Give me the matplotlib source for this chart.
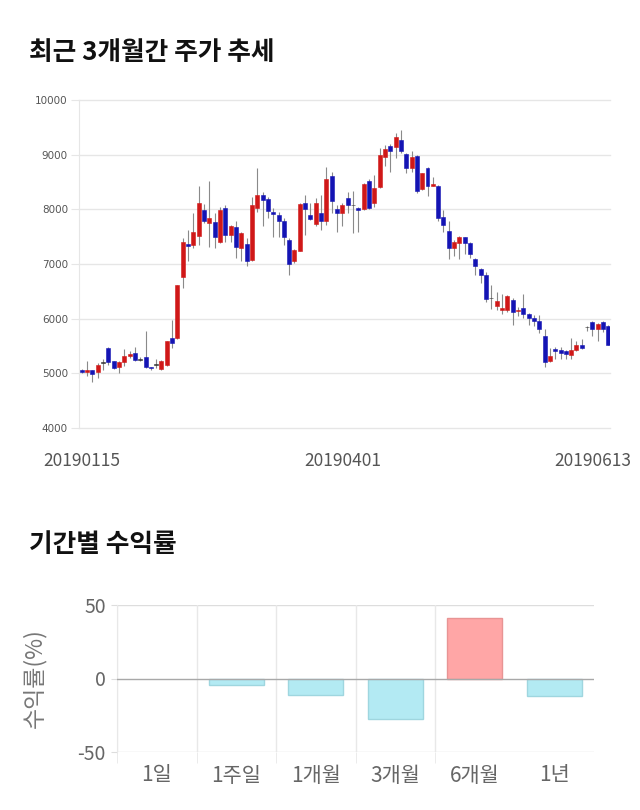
import matplotlib.pyplot as plt
import numpy as np

plt.rcParams['font.family'] = ['Noto Sans CJK KR', 'DejaVu Sans']
plt.rcParams['axes.unicode_minus'] = False

# daily candles (open, high, low, close), 2019-01-15 .. 2019-06-13
opens = [5060, 5020, 5060, 5020, 5200, 5460, 5220, 5110, 5200, 5310,
         5370, 5250, 5300, 5120, 5160, 5080, 5160, 5650, 5650, 6770,
         7360, 7340, 7520, 7980, 7750, 7760, 7410, 8020, 7530, 7670,
         7290, 7370, 7080, 8020, 8260, 8190, 7950, 7890, 7790, 7430,
         7060, 7240, 8110, 7890, 7730, 7940, 7780, 8610, 8010, 7930,
         8200, 8080, 8020, 8000, 8510, 8110, 8400, 8950, 9160, 9140,
         9270, 9010, 8750, 8980, 8370, 8750, 8430, 8420, 7860, 7610,
         7290, 7390, 7490, 7380, 7100, 6910, 6800, 6380, 6240, 6150,
         6160, 6350, 6140, 6190, 6080, 6010, 5960, 5690, 5220, 5440,
         5420, 5400, 5340, 5430, 5510, 5850, 5940, 5810, 5930, 5870]
highs = [5080, 5220, 5070, 5190, 5260, 5490, 5230, 5220, 5450, 5400,
         5490, 5300, 5770, 5120, 5260, 5240, 5600, 5980, 6620, 7470,
         7630, 7930, 8430, 8100, 8510, 7930, 8050, 8080, 7720, 7780,
         7590, 7470, 8230, 8750, 8320, 8220, 8020, 7960, 7840, 7470,
         7270, 8110, 8260, 8110, 8200, 8260, 8780, 8690, 8080, 8110,
         8310, 8330, 8050, 8480, 8550, 8630, 9120, 9180, 9190, 9390,
         9450, 9030, 9060, 9000, 8670, 8780, 8590, 8450, 7990, 7780,
         7440, 7520, 7500, 7410, 7110, 6920, 6860, 6620, 6480, 6460,
         6430, 6380, 6220, 6460, 6110, 6070, 6070, 5810, 5460, 5490,
         5480, 5420, 5650, 5590, 5620, 5870, 5950, 5920, 5950, 5890]
lows = [5000, 4950, 4850, 4920, 5070, 5160, 5080, 5010, 5130, 5280,
        5220, 5220, 5100, 5070, 5100, 5070, 5130, 5470, 5620, 6560,
        7050, 7290, 7350, 7750, 7320, 7290, 7380, 7410, 7410, 7110,
        7050, 6960, 7060, 7960, 7700, 7840, 7500, 7500, 7350, 6800,
        7020, 7230, 7530, 7810, 7690, 7620, 7720, 7930, 7590, 7690,
        7930, 7560, 7590, 7990, 8000, 8050, 8390, 8790, 8690, 8930,
        9030, 8660, 8690, 8290, 8360, 8250, 8420, 7780, 7590, 7090,
        7140, 7090, 7190, 7110, 6800, 6650, 6300, 6180, 6160, 6090,
        6130, 5890, 6040, 6010, 5890, 5860, 5730, 5120, 5200, 5260,
        5260, 5260, 5260, 5400, 5440, 5770, 5680, 5600, 5750, 5520]
closes = [5030, 5060, 4980, 5160, 5200, 5200, 5090, 5200, 5310, 5350,
          5240, 5250, 5120, 5090, 5160, 5220, 5590, 5550, 6620, 7400,
          7330, 7580, 8110, 7790, 7840, 7490, 7990, 7530, 7690, 7310,
          7560, 7060, 8080, 8260, 8170, 7970, 7920, 7780, 7490, 7000,
          7250, 8090, 8000, 7820, 8110, 7790, 8550, 8160, 7940, 8080,
          8080, 8080, 7980, 8460, 8020, 8390, 8990, 9100, 9070, 9320,
          9060, 8750, 8960, 8340, 8660, 8430, 8460, 7840, 7720, 7290,
          7410, 7500, 7380, 7190, 6960, 6800, 6360, 6380, 6330, 6200,
          6410, 6130, 6160, 6090, 6010, 5950, 5820, 5200, 5310, 5400,
          5380, 5350, 5430, 5510, 5460, 5850, 5810, 5900, 5810, 5520]
date_ticks = [0, 49, 96]
date_labels = ['20190115', '20190401', '20190613']

# period returns
periods = ['1일', '1주일', '1개월', '3개월', '6개월', '1년']
returns = [0.0, -4.2, -11.4, -27.8, 40.9, -12.0]

fig = plt.figure(figsize=(6.4, 8.1), dpi=100)

fig.text(29 / 640, 1 - 52 / 810, '최근 3개월간 주가 추세', fontsize=18.5,
         fontweight='heavy', color='#111111', va='center')
fig.text(29 / 640, 1 - 544 / 810, '기간별 수익률', fontsize=18.5,
         fontweight='heavy', color='#111111', va='center')

# candlestick chart
ax = fig.add_axes([79 / 640, 1 - 428 / 810, 531 / 640, 328 / 810])
x = np.arange(len(opens))
o = np.array(opens)
c = np.array(closes)
colors = np.where(c > o, '#d01818', np.where(c < o, '#1414b4', '#333333'))
ax.vlines(x, lows, highs, color='#8a8a8a', linewidth=0.8, zorder=2)
body = np.maximum(np.abs(c - o), 12)
ax.bar(x, body, bottom=np.minimum(o, c) - np.where(c == o, 6, 0), width=0.75,
       color=colors, edgecolor=colors, linewidth=0.4, zorder=3)
ax.set_xlim(-0.5, 99.3)
ax.set_ylim(4000, 10000)
ax.set_yticks(range(4000, 10001, 1000))
ax.tick_params(axis='y', length=6, color='#e6e6e6', labelsize=7.5,
               labelcolor='#555555', pad=2)
for lab in ax.get_yticklabels():
    lab.set_family('DejaVu Sans')
ax.set_xticks(date_ticks)
ax.set_xticklabels(date_labels)
ax.tick_params(axis='x', length=0, labelsize=12.5, labelcolor='#555555', pad=17)
ax.grid(axis='y', color='#e6e6e6', linewidth=1)
for gl in ax.get_ygridlines():
    gl.set_clip_on(False)
for s in ['top', 'right', 'bottom']:
    ax.spines[s].set_visible(False)
ax.spines['left'].set_color('#e6e6e6')
ax.set_axisbelow(True)

# returns bar chart
ax2 = fig.add_axes([117 / 640, 1 - 752 / 810, 477 / 640, 147 / 810])
r = np.array(returns)
fills = ['#ffa6a6' if v > 0 else '#b3eaf3' for v in r]
edges = ['#e89494' if v > 0 else ('#9fd6df' if v < 0 else 'none') for v in r]
ax2.bar(np.arange(len(periods)), r, width=0.69, color=fills, edgecolor=edges,
        linewidth=1, zorder=3)
ax2.set_xlim(-0.5, len(periods) - 0.5)
ax2.set_ylim(-50, 50)
ax2.set_yticks([-50, 0, 50])
ax2.axhline(0, color='#a8a8a8', linewidth=1, zorder=4)
for yv in [-50, 50]:
    ax2.axhline(yv, color='#dddddd', linewidth=1, zorder=1)
ax2.set_xticks(np.arange(len(periods)))
ax2.set_xticklabels(periods)
ax2.set_xticks(np.arange(len(periods) - 1) - 0.5, minor=True)
ax2.grid(axis='x', which='minor', color='#e8e8e8', linewidth=1)
ax2.tick_params(axis='x', which='major', length=0, labelsize=15,
                labelcolor='#666666', pad=9)
ax2.tick_params(axis='x', which='minor', length=8, color='#e8e8e8')
ax2.tick_params(axis='y', length=4, color='#dddddd', labelsize=14,
                labelcolor='#666666', pad=4)
ax2.set_ylabel('수익률(%)', fontsize=16.5, color='#777777')
ax2.yaxis.set_label_coords(-71 / 477, 0.5)
for s in ['top', 'right', 'bottom', 'left']:
    ax2.spines[s].set_visible(False)
ax2.spines['left'].set_visible(True)
ax2.spines['left'].set_color('#e8e8e8')

plt.savefig('out.png', dpi=100)
